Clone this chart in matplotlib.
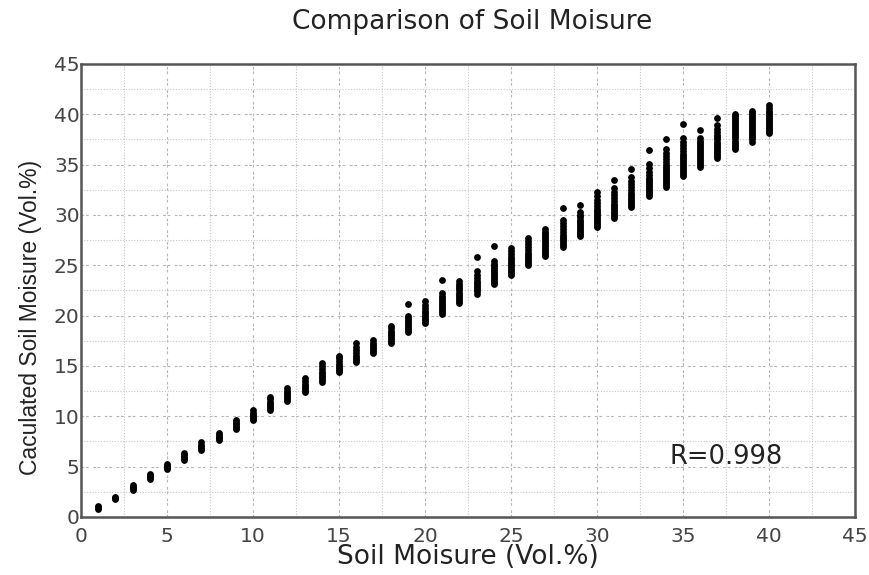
import matplotlib
matplotlib.use("Agg")
import matplotlib.pyplot as plt
from matplotlib.ticker import MultipleLocator

plt.rcParams['font.family'] = ['DejaVu Sans']

# Measured soil moisture (x) and calculated soil moisture values observed at each x
soil_moisture = list(range(1, 41))
calculated = [
    [0.8, 0.95, 1.05],
    [1.8, 1.9, 2.0],
    [2.7, 2.85, 3.0, 3.15],
    [3.8, 3.95, 4.1, 4.25],
    [4.8, 4.95, 5.1, 5.25],
    [5.7, 5.85, 6.0, 6.2, 6.4],
    [6.7, 6.85, 7.0, 7.2, 7.45],
    [7.65, 7.8, 7.95, 8.1, 8.3],
    [8.7, 8.85, 9.0, 9.2, 9.4, 9.6],
    [9.6, 9.75, 9.9, 10.1, 10.3, 10.6],
    [10.6, 10.8, 11.0, 11.2, 11.45, 11.7, 11.9],
    [11.5, 11.7, 11.9, 12.1, 12.3, 12.5, 12.8],
    [12.45, 12.6, 12.8, 13.0, 13.2, 13.5, 13.8],
    [13.4, 13.6, 13.8, 14.0, 14.2, 14.4, 14.7, 15.0, 15.3],
    [14.4, 14.6, 14.8, 15.0, 15.2, 15.5, 15.8, 16.0],
    [15.4, 15.6, 15.8, 16.0, 16.3, 16.6, 16.9, 17.3],
    [16.3, 16.5, 16.7, 16.9, 17.1, 17.3, 17.6],
    [17.3, 17.5, 17.7, 17.9, 18.1, 18.3, 18.5, 18.8, 19.0],
    [18.4, 18.6, 18.8, 19.0, 19.2, 19.4, 19.6, 19.8, 20.0, 21.2],
    [19.3, 19.5, 19.7, 19.9, 20.1, 20.3, 20.5, 20.8, 21.1, 21.5],
    [20.2, 20.4, 20.6, 20.8, 21.0, 21.2, 21.4, 21.6, 21.8, 22.0, 22.3, 23.5],
    [21.3, 21.5, 21.7, 21.9, 22.1, 22.3, 22.5, 22.7, 22.9, 23.1, 23.4],
    [22.2, 22.4, 22.6, 22.8, 23.0, 23.2, 23.4, 23.7, 24.0, 24.4, 25.8],
    [23.1, 23.3, 23.5, 23.7, 23.9, 24.1, 24.3, 24.5, 24.7, 24.9, 25.1, 25.4, 26.9],
    [24.0, 24.2, 24.4, 24.6, 24.8, 25.0, 25.2, 25.4, 25.6, 25.8, 26.1, 26.4, 26.7],
    [25.0, 25.2, 25.4, 25.6, 25.8, 26.0, 26.2, 26.5, 26.8, 27.1, 27.4, 27.7],
    [25.9, 26.1, 26.3, 26.5, 26.7, 26.9, 27.1, 27.3, 27.5, 27.7, 27.9, 28.1, 28.3, 28.6],
    [26.8, 27.0, 27.2, 27.4, 27.6, 27.8, 28.0, 28.3, 28.6, 28.9, 29.2, 29.5, 30.7],
    [27.9, 28.1, 28.3, 28.5, 28.7, 28.9, 29.1, 29.3, 29.5, 29.8, 30.0, 30.3, 31.0],
    [28.8, 29.0, 29.2, 29.4, 29.6, 29.8, 30.0, 30.2, 30.4, 30.6, 30.9, 31.2, 31.5, 31.9, 32.3],
    [29.7, 29.9, 30.1, 30.3, 30.5, 30.7, 30.9, 31.1, 31.4, 31.7, 32.0, 32.3, 32.7, 33.5],
    [30.8, 31.0, 31.2, 31.4, 31.6, 31.8, 32.0, 32.2, 32.5, 32.8, 33.1, 33.4, 33.8, 34.6],
    [31.9, 32.1, 32.3, 32.5, 32.7, 32.9, 33.1, 33.3, 33.5, 33.7, 34.0, 34.3, 34.7, 35.1, 36.5],
    [32.8, 33.0, 33.2, 33.4, 33.6, 33.8, 34.0, 34.2, 34.4, 34.6, 34.8, 35.0, 35.3, 35.6, 35.9, 36.2, 36.6, 37.5],
    [33.9, 34.1, 34.3, 34.5, 34.7, 34.9, 35.1, 35.3, 35.5, 35.7, 35.9, 36.1, 36.4, 36.7, 37.0, 37.3, 37.6, 39.0],
    [34.8, 35.0, 35.2, 35.4, 35.6, 35.8, 36.0, 36.2, 36.4, 36.6, 36.8, 37.0, 37.2, 37.4, 37.6, 38.4],
    [35.7, 35.9, 36.1, 36.3, 36.5, 36.7, 36.9, 37.1, 37.3, 37.5, 37.7, 37.9, 38.2, 38.5, 38.9, 39.6],
    [36.6, 36.8, 37.0, 37.2, 37.4, 37.6, 37.8, 38.0, 38.2, 38.4, 38.6, 38.8, 39.0, 39.2, 39.4, 39.6, 39.8, 40.0],
    [37.3, 37.5, 37.7, 37.9, 38.1, 38.3, 38.5, 38.7, 38.9, 39.1, 39.3, 39.5, 39.7, 39.9, 40.1, 40.3],
    [38.1, 38.3, 38.5, 38.7, 38.9, 39.1, 39.3, 39.5, 39.7, 39.9, 40.1, 40.3, 40.6, 40.9],
]
r_text = "R=0.998"
title_text = "Comparison of Soil Moisure"
x_label = "Soil Moisure (Vol.%)"
y_label = "Caculated Soil Moisure (Vol.%)"

xs, ys = [], []
for xv, col in zip(soil_moisture, calculated):
    for yv in col:
        xs.append(xv)
        ys.append(yv)

fig = plt.figure(figsize=(8.69, 5.75), dpi=100)
ax = fig.add_axes([0.0932, 0.1009, 0.8906, 0.7878])

ax.set_xlim(0, 45)
ax.set_ylim(0, 45)
ax.xaxis.set_major_locator(MultipleLocator(5))
ax.yaxis.set_major_locator(MultipleLocator(5))
ax.xaxis.set_minor_locator(MultipleLocator(2.5))
ax.yaxis.set_minor_locator(MultipleLocator(2.5))

ax.grid(True, which='major', color='#b5b5b5', linestyle=(0, (2.5, 1.5, 2.5, 4)), linewidth=0.8)
ax.grid(True, which='minor', color='#c5c5c5', linestyle=(0, (1.0, 1.5)), linewidth=0.8)
ax.set_axisbelow(True)

ax.scatter(xs, ys, s=24, color='black', marker='o', linewidths=0, zorder=3)

for sp in ax.spines.values():
    sp.set_color('#555555')
    sp.set_linewidth(1.8)

ax.tick_params(which='both', length=0)
ax.tick_params(axis='x', pad=7, labelsize=14.5, labelcolor='#444444')
ax.tick_params(axis='y', pad=1, labelsize=14.5, labelcolor='#444444')

ax.set_xlabel(x_label, fontsize=19, color='#222222', labelpad=-1)
ax.set_ylabel(y_label, fontsize=16.5, color='#222222',
              family=['Liberation Sans'])
ax.yaxis.set_label_coords(-0.05, 0.44)
fig.text(0.543, 0.962, title_text, fontsize=19, color='#222222', ha='center', va='center')

ax.text(34.2, 6.0, r_text, fontsize=18.5, color='#222222', ha='left', va='center')

fig.savefig("out.png", dpi=100)
